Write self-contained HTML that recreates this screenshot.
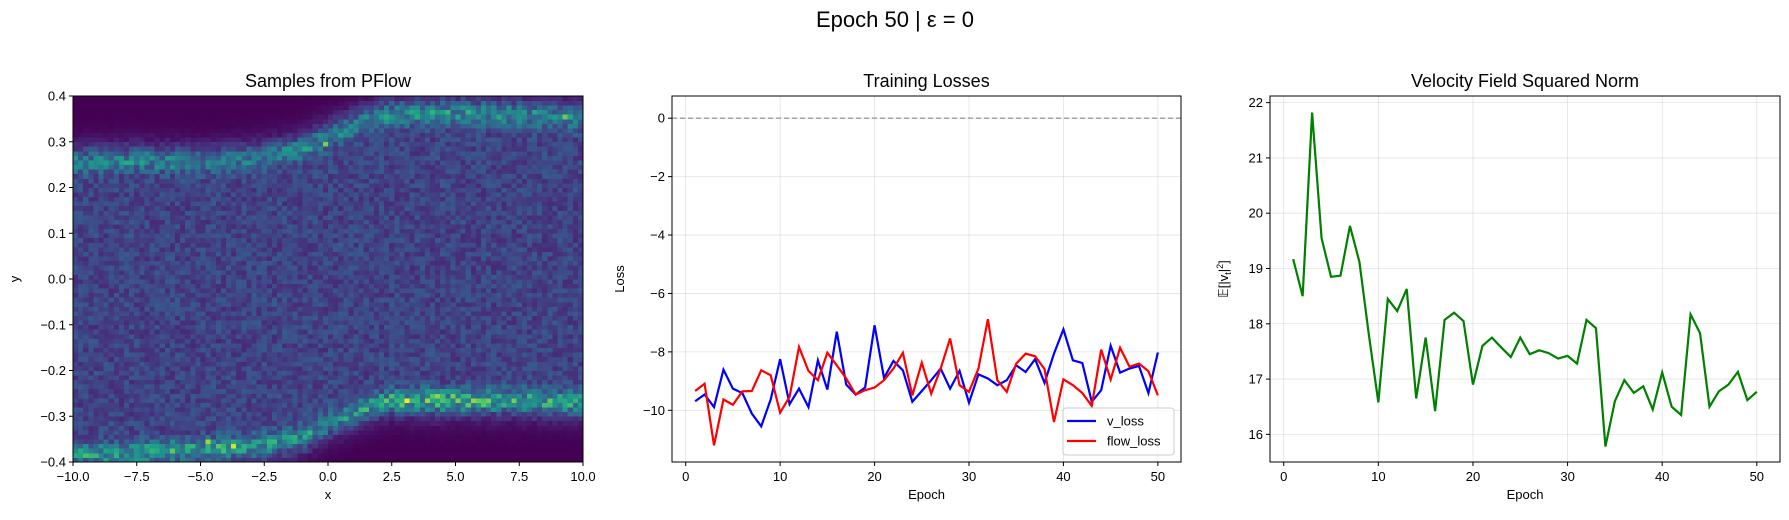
<!DOCTYPE html>
<html><head><meta charset="utf-8">
<style>
html,body{margin:0;padding:0;background:#fff;}
svg text{font-family:"Liberation Sans","DejaVu Sans",sans-serif;fill:#000;}
</style></head>
<body>
<svg id="fig" width="1789" height="515" viewBox="0 0 1789 515" xmlns="http://www.w3.org/2000/svg">
<rect width="1789" height="515" fill="#fff"/>
<text x="895" y="27" font-size="22" text-anchor="middle">Epoch 50 | ε = 0</text>
<g id="p1"></g>
<g id="p2"></g>
<g id="p3"></g>
</svg>
<script>
// ---- data ----
const epochs = Array.from({length:50},(_,i)=>i+1);
const vLoss = [-9.69,-9.46,-9.89,-8.61,-9.26,-9.41,-10.11,-10.55,-9.63,-8.25,-9.79,-9.26,-9.89,-8.29,-9.29,-7.31,-9.12,-9.46,-9.22,-7.09,-8.89,-8.31,-8.63,-9.71,-9.34,-8.97,-8.57,-9.26,-8.65,-9.74,-8.77,-8.91,-9.14,-8.97,-8.46,-8.69,-8.25,-9.06,-8.06,-7.23,-8.29,-8.38,-9.71,-9.31,-7.79,-8.71,-8.57,-8.48,-9.41,-8.02];
const flowLoss = [-9.34,-9.09,-11.2,-9.63,-9.81,-9.35,-9.34,-8.63,-8.8,-10.08,-9.54,-7.83,-8.65,-8.97,-8.03,-8.46,-8.91,-9.46,-9.31,-9.22,-8.97,-8.57,-8.03,-9.49,-8.37,-9.43,-8.57,-7.54,-9.14,-9.37,-8.57,-6.88,-8.97,-9.37,-8.4,-8.06,-8.15,-8.59,-10.4,-8.94,-9.14,-9.41,-9.85,-7.92,-8.95,-7.86,-8.51,-8.4,-8.66,-9.49];
const velNorm = [19.17,18.5,21.82,19.55,18.85,18.87,19.77,19.12,17.8,16.58,18.45,18.23,18.63,16.65,17.75,16.42,18.07,18.2,18.05,16.9,17.6,17.75,17.57,17.4,17.75,17.45,17.52,17.47,17.37,17.42,17.28,18.07,17.92,15.78,16.6,16.98,16.75,16.87,16.45,17.12,16.5,16.35,18.17,17.83,16.5,16.78,16.9,17.13,16.62,16.77];
const lossTicks = [0,-2,-4,-6,-8,-10];
const velTicks = [16,17,18,19,20,21,22];
const epochTicks = [0,10,20,30,40,50];
const hmXTicks = [-10,-7.5,-5,-2.5,0,2.5,5,7.5,10];
const hmYTicks = [-0.4,-0.3,-0.2,-0.1,0,0.1,0.2,0.3,0.4];
// heatmap band structure (sample density)
const bandX = [-10,-7.5,-5,-2.5,-1,0,1,2,2.5,5,7.5,10];
const upperY = [0.255,0.26,0.255,0.265,0.285,0.31,0.335,0.355,0.36,0.365,0.36,0.35];
const lowerY = [-0.385,-0.38,-0.372,-0.362,-0.345,-0.315,-0.29,-0.27,-0.265,-0.265,-0.265,-0.27];
const upperPeak = [0.22,0.24,0.2,0.2,0.22,0.24,0.24,0.25,0.26,0.28,0.26,0.22];
const lowerPeak = [0.3,0.32,0.34,0.28,0.26,0.26,0.3,0.36,0.38,0.42,0.36,0.32];

const NS="http://www.w3.org/2000/svg";
function mk(tag,attrs,parent){const e=document.createElementNS(NS,tag);for(const k in attrs)e.setAttribute(k,attrs[k]);parent.appendChild(e);return e;}
function fmtMinus(s){return String(s).replace('-','\u2212');}
function interp(xs,ys,x){if(x<=xs[0])return ys[0];for(let i=1;i<xs.length;i++){if(x<=xs[i]){const t=(x-xs[i-1])/(xs[i]-xs[i-1]);return ys[i-1]+t*(ys[i]-ys[i-1]);}}return ys[ys.length-1];}
const VIR=[[68,1,84],[72,40,120],[62,74,137],[49,104,142],[38,130,142],[31,158,137],[53,183,121],[109,205,89],[180,222,44],[253,231,37]];
function viridis(t){t=Math.max(0,Math.min(1,t));const p=t*(VIR.length-1),i=Math.min(VIR.length-2,Math.floor(p)),f=p-i;const c=VIR[i].map((v,k)=>Math.round(v+f*(VIR[i+1][k]-v)));return `rgb(${c[0]},${c[1]},${c[2]})`;}
function hash(i,j){let h=(i*374761393+j*668265263)>>>0;h=((h^(h>>>13))*1274126177)>>>0;return ((h^(h>>>16))>>>0)/4294967296;}

function linePanel(g,opt){
  const {L,R,T,B,xmin,xmax,ymin,ymax}=opt;
  const sx=v=>L+(v-xmin)/(xmax-xmin)*(R-L), sy=v=>B-(v-ymin)/(ymax-ymin)*(B-T);
  const grid=mk('g',{},g);
  epochTicks.forEach(t=>{mk('line',{x1:sx(t),x2:sx(t),y1:T,y2:B,stroke:'#b0b0b0','stroke-opacity':0.35,'stroke-width':0.8},grid);});
  opt.yticks.forEach(t=>{mk('line',{x1:L,x2:R,y1:sy(t),y2:sy(t),stroke:'#b0b0b0','stroke-opacity':0.35,'stroke-width':0.8},grid);});
  if(opt.zeroLine){const z=mk('line',{x1:L,x2:R,y1:sy(0),y2:sy(0),stroke:'#999','stroke-width':1.3,'stroke-dasharray':'5,3'},g);}
  opt.series.forEach(s=>{
    const p=mk('polyline',{points:epochs.map((e,i)=>sx(e)+','+sy(s.vals[i])).join(' '),fill:'none',stroke:s.color,'stroke-width':2.2,'stroke-linejoin':'miter'},g);
    
  });
  const fr=mk('rect',{x:L,y:T,width:R-L,height:B-T,fill:'none',stroke:'#000','stroke-width':1},g);
  
  epochTicks.forEach(t=>{mk('line',{x1:sx(t),x2:sx(t),y1:B,y2:B+4,stroke:'#000'},g);
    const tx=mk('text',{x:sx(t),y:B+19,'font-size':13,'text-anchor':'middle'},g);tx.textContent=t;
    });
  opt.yticks.forEach(t=>{mk('line',{x1:L-4,x2:L,y1:sy(t),y2:sy(t),stroke:'#000'},g);
    const tx=mk('text',{x:L-7,y:sy(t)+4.5,'font-size':13,'text-anchor':'end'},g);tx.textContent=fmtMinus(t);
    });
  const xl=mk('text',{x:(L+R)/2,y:B+37,'font-size':13,'text-anchor':'middle'},g);xl.textContent='Epoch';
  
  const ti=mk('text',{x:(L+R)/2,y:T-9,'font-size':18,'text-anchor':'middle'},g);ti.textContent=opt.title;
  
  return {sx,sy};
}

const g2=document.getElementById('p2');
linePanel(g2,{L:672,R:1181,T:96,B:462,xmin:-1.45,xmax:52.45,ymin:-11.77,ymax:0.76,yticks:lossTicks,zeroLine:true,title:'Training Losses',
  series:[{vals:vLoss,color:'#0000ff',name:'v-loss-line'},{vals:flowLoss,color:'#ff0000',name:'flow-loss-line'}]});
const yl2=mk('text',{x:0,y:0,'font-size':13,'text-anchor':'middle',transform:'translate(624,279) rotate(-90)'},g2);yl2.textContent='Loss';

const lg=mk('g',{},g2);
mk('rect',{x:1063,y:408,width:111,height:47,rx:3,fill:'#fff','fill-opacity':0.8,stroke:'#ccc'},lg);
[['v_loss','#0000ff',421],['flow_loss','#ff0000',441]].forEach(([n,c,y])=>{
  const le=mk('g',{},lg);
  mk('line',{x1:1067,x2:1096,y1:y,y2:y,stroke:c,'stroke-width':2.2},le);
  const t=mk('text',{x:1107,y:y+4.5,'font-size':13},le);t.textContent=n;});

const g3=document.getElementById('p3');
linePanel(g3,{L:1270,R:1780,T:96,B:462,xmin:-1.45,xmax:52.45,ymin:15.5,ymax:22.12,yticks:velTicks,zeroLine:false,title:'Velocity Field Squared Norm',
  series:[{vals:velNorm,color:'#008000',name:'velocity-norm-line'}]});
const yl3=mk('text',{x:0,y:0,'font-size':13,'text-anchor':'middle',transform:'translate(1228,279) rotate(-90)'},g3);
yl3.innerHTML='<tspan font-style="italic">𝔼</tspan>[|v<tspan font-size="9" dy="3">t</tspan><tspan dy="-3">|</tspan><tspan font-size="9" dy="-5">2</tspan><tspan dy="5">]</tspan>';


const g1=document.getElementById('p1');
const L1=73,R1=583,T1=96,B1=462,NX=100,NY=80;
const hx=v=>L1+(v+10)/20*(R1-L1), hy=v=>B1-(v+0.4)/0.8*(B1-T1);
const cells=mk('g',{'shape-rendering':'crispEdges'},g1);
const cw=(R1-L1)/NX,ch=(B1-T1)/NY;
for(let i=0;i<NX;i++){
  const x=-10+(i+0.5)*0.2;
  const uy=interp(bandX,upperY,x),ly=interp(bandX,lowerY,x),up=interp(bandX,upperPeak,x),lp=interp(bandX,lowerPeak,x);
  for(let j=0;j<NY;j++){
    const y=-0.4+(j+0.5)*0.01;
    let bg;
    if(y>uy) bg=0.2*Math.exp(-Math.pow((y-uy)/0.045,2));
    else if(y<ly) bg=0.2*Math.exp(-Math.pow((ly-y)/0.045,2));
    else bg=0.2;
    let d=bg+up*Math.exp(-Math.pow((y-uy)/0.024,2))+lp*Math.exp(-Math.pow((y-ly)/0.024,2));
    d=d*(1+0.85*(hash(i,j)-0.5));
    if(hash(j+7,i+3)>0.985 && d>0.45) d+=0.3;
    const r=mk('rect',{x:(L1+i*cw).toFixed(2),y:(B1-(j+1)*ch).toFixed(2),width:(cw+0.4).toFixed(2),height:(ch+0.4).toFixed(2),fill:viridis(d)},cells);
    
    
  }
}
mk('rect',{x:L1,y:T1,width:R1-L1,height:B1-T1,fill:'none',stroke:'#000'},g1);
hmXTicks.forEach(t=>{mk('line',{x1:hx(t),x2:hx(t),y1:B1,y2:B1+4,stroke:'#000'},g1);
  const tx=mk('text',{x:hx(t),y:B1+19,'font-size':13,'text-anchor':'middle'},g1);tx.textContent=fmtMinus(t.toFixed(1));
  });
hmYTicks.forEach(t=>{mk('line',{x1:L1-4,x2:L1,y1:hy(t),y2:hy(t),stroke:'#000'},g1);
  const tx=mk('text',{x:L1-7,y:hy(t)+4.5,'font-size':13,'text-anchor':'end'},g1);tx.textContent=fmtMinus(t.toFixed(1));
  });
const xl1=mk('text',{x:(L1+R1)/2,y:B1+37,'font-size':13,'text-anchor':'middle'},g1);xl1.textContent='x';

const yl1=mk('text',{x:0,y:0,'font-size':13,'text-anchor':'middle',transform:'translate(19,279) rotate(-90)'},g1);yl1.textContent='y';

const t1=mk('text',{x:(L1+R1)/2,y:T1-9,'font-size':18,'text-anchor':'middle'},g1);t1.textContent='Samples from PFlow';

</script>
</body></html>
